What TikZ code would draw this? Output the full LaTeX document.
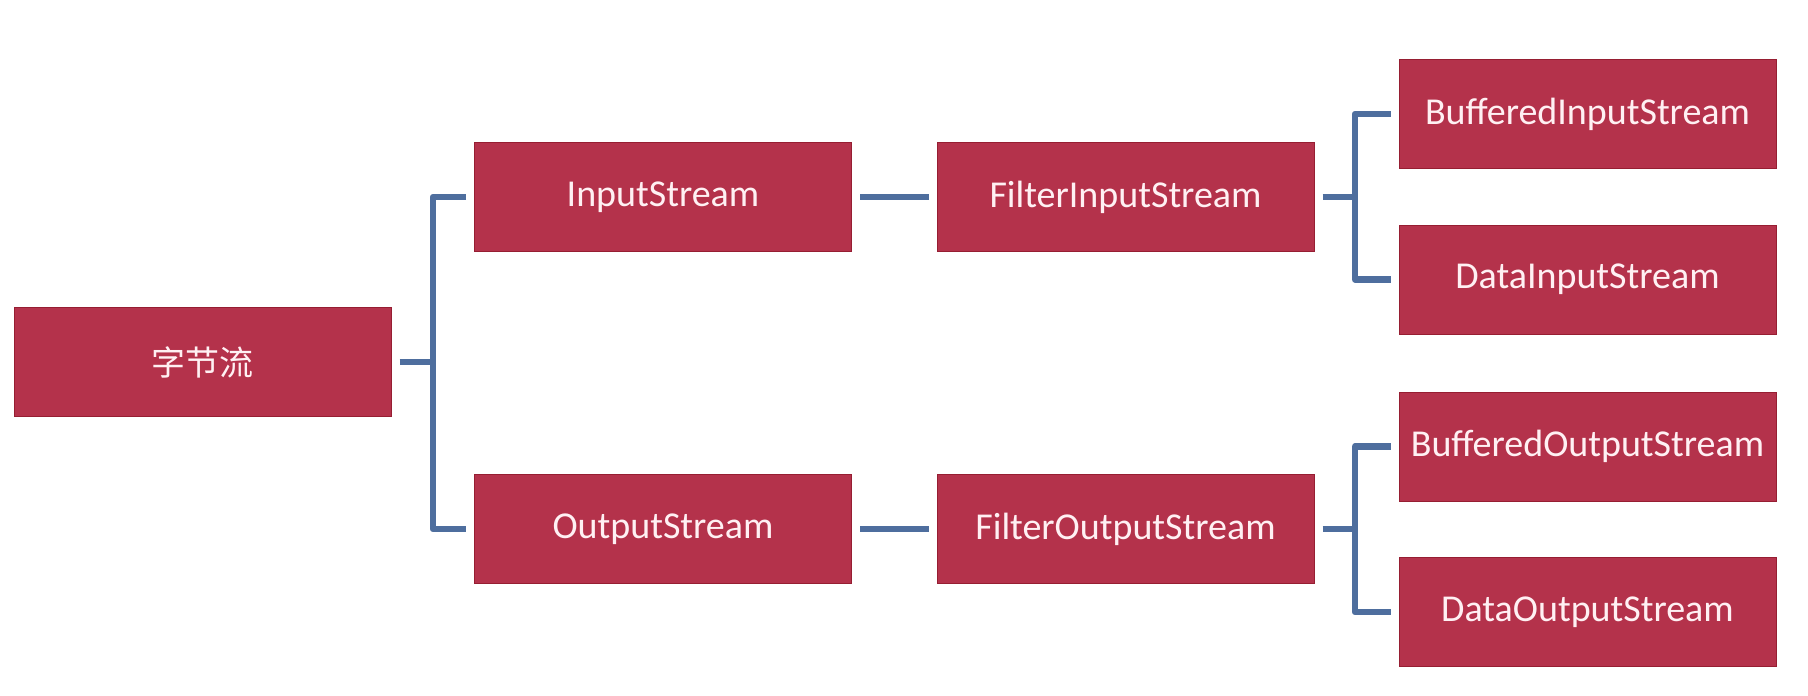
\documentclass[tikz,border=0pt]{standalone}
\usepackage{fontspec}
\setmainfont{Carlito}
\newfontfamily\cjk{Noto Sans CJK SC}
\definecolor{boxfill}{RGB}{180,50,75}
\definecolor{boxedge}{RGB}{150,30,50}
\definecolor{linkblue}{RGB}{78,110,158}
\definecolor{labeltext}{RGB}{255,240,243}
\begin{document}
\begin{tikzpicture}[x=1pt,y=-1pt,
  klass/.style={fill=boxfill, draw=boxedge, line width=1pt,
    minimum width=377pt, minimum height=109pt, inner sep=0pt,
    text=labeltext, font=\fontsize{38}{44}\selectfont},
  link/.style={draw=linkblue, line width=6.5pt, line join=round}]
\useasboundingbox (0,0) rectangle (1808,696);

% class boxes
\node[klass, font=\cjk\fontsize{34}{40}\selectfont] (root) at (202.5,362) {字节流};
\node[klass] (in)   at (663,197)    {InputStream};
\node[klass] (out)  at (663,529)    {OutputStream};
\node[klass] (fin)  at (1125.5,197) {FilterInputStream};
\node[klass] (fout) at (1125.5,529) {FilterOutputStream};
\node[klass] (bin)  at (1587.5,114) {BufferedInputStream};
\node[klass] (din)  at (1587.5,279.5) {DataInputStream};
\node[klass] (bout) at (1587.5,446.5) {BufferedOutputStream};
\node[klass] (dout) at (1587.5,612) {DataOutputStream};

% junction points of the brackets
\coordinate (rj) at (433,362);
\coordinate (ij) at (1355,197);
\coordinate (oj) at (1355,529);

% root bracket
\draw[link] ([xshift=8pt]root.east) -- (rj);
\draw[link] ([xshift=-8pt]in.west) -| (rj) |- ([xshift=-8pt]out.west);

% straight links
\draw[link] ([xshift=8pt]in.east) -- ([xshift=-8pt]fin.west);
\draw[link] ([xshift=8pt]out.east) -- ([xshift=-8pt]fout.west);

% input bracket
\draw[link] ([xshift=8pt]fin.east) -- (ij);
\draw[link] ([xshift=-8pt]bin.west) -| (ij) |- ([xshift=-8pt]din.west);

% output bracket
\draw[link] ([xshift=8pt]fout.east) -- (oj);
\draw[link] ([xshift=-8pt]bout.west) -| (oj) |- ([xshift=-8pt]dout.west);
\end{tikzpicture}
\end{document}
